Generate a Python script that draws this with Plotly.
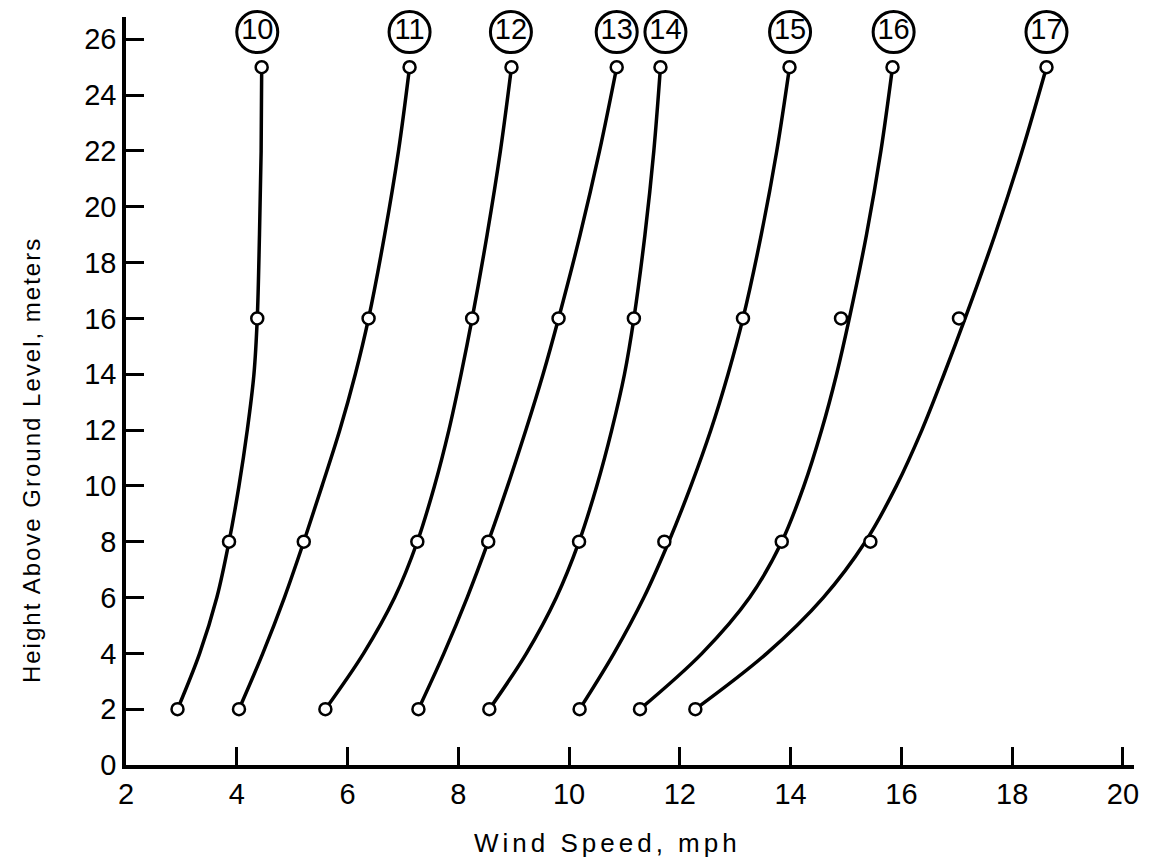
import plotly.graph_objects as go

# Heights of the measurement points (m)
heights = [2, 8, 16, 25]

# Profile labels
profile_labels = ["10", "11", "12", "13", "14", "15", "16", "17"]

# Measured wind speeds (mph) at the heights above, one list per profile
points_10 = [2.93, 3.86, 4.37, 4.45]
points_11 = [4.04, 5.21, 6.38, 7.12]
points_12 = [5.60, 7.26, 8.25, 8.96]
points_13 = [7.28, 8.54, 9.81, 10.86]
points_14 = [8.56, 10.18, 11.17, 11.65]
points_15 = [10.19, 11.72, 13.14, 13.98]
points_16 = [11.28, 13.84, 14.91, 15.84]
points_17 = [12.28, 15.44, 17.04, 18.62]

# Fitted (smoothed) curves: wind speed at these heights
curve_heights = [2, 4, 6, 8, 10, 12, 14, 16, 19, 22, 25]
curve_10 = [2.93, 3.33, 3.64, 3.86, 4.04, 4.19, 4.31, 4.37, 4.41, 4.44, 4.45]
curve_11 = [4.04, 4.47, 4.86, 5.21, 5.54, 5.86, 6.14, 6.38, 6.67, 6.92, 7.12]
curve_12 = [5.60, 6.29, 6.85, 7.26, 7.57, 7.83, 8.05, 8.25, 8.52, 8.76, 8.96]
curve_13 = [7.28, 7.74, 8.16, 8.54, 8.89, 9.22, 9.53, 9.81, 10.20, 10.55, 10.86]
curve_14 = [8.56, 9.23, 9.77, 10.18, 10.50, 10.77, 11.00, 11.17, 11.37, 11.53, 11.65]
curve_15 = [10.19, 10.81, 11.35, 11.80, 12.20, 12.56, 12.87, 13.14, 13.47, 13.75, 13.98]
curve_16 = [11.28, 12.40, 13.26, 13.84, 14.24, 14.56, 14.83, 15.06, 15.37, 15.63, 15.84]
curve_17 = [12.28, 13.57, 14.59, 15.35, 15.91, 16.37, 16.77, 17.15, 17.69, 18.18, 18.62]

# Circled label positions
label_x = [4.37, 7.12, 8.95, 10.86, 11.74, 13.99, 15.86, 18.62]
label_y = [26.26] * 8

# Axis ticks
x_ticks = [2, 4, 6, 8, 10, 12, 14, 16, 18, 20]
y_ticks = [0, 2, 4, 6, 8, 10, 12, 14, 16, 18, 20, 22, 24, 26]

points = [points_10, points_11, points_12, points_13, points_14, points_15, points_16, points_17]
curves = [curve_10, curve_11, curve_12, curve_13, curve_14, curve_15, curve_16, curve_17]

fig = go.Figure()

for lab, cx in zip(profile_labels, curves):
    fig.add_trace(go.Scatter(
        x=cx, y=curve_heights, mode="lines",
        line=dict(color="black", width=3.5, shape="spline", smoothing=1.0),
        name="curve " + lab, showlegend=False, hoverinfo="skip",
    ))

for lab, px in zip(profile_labels, points):
    fig.add_trace(go.Scatter(
        x=px, y=heights, mode="markers",
        marker=dict(symbol="circle", size=12, color="white",
                    line=dict(color="black", width=2.5)),
        name="profile " + lab, showlegend=False,
    ))

fig.add_trace(go.Scatter(
    x=label_x, y=label_y, mode="markers+text",
    text=profile_labels, textposition="middle center",
    textfont=dict(family="Liberation Sans", size=29, color="black"),
    marker=dict(symbol="circle-open", size=41, color="black",
                line=dict(color="black", width=3)),
    cliponaxis=False, showlegend=False, hoverinfo="skip",
))

tickfont = dict(family="Liberation Sans", size=29, color="black")

fig.update_layout(
    width=1151, height=863,
    margin=dict(l=126, r=15, t=17, b=98),
    paper_bgcolor="white", plot_bgcolor="white",
    xaxis=dict(
        range=[2, 20.2], tickvals=x_ticks, ticktext=[str(v) for v in x_ticks],
        ticks="inside", ticklen=18, tickwidth=3, tickcolor="black",
        showline=True, linewidth=3.5, linecolor="black",
        showgrid=False, zeroline=False, tickfont=tickfont,
    ),
    yaxis=dict(
        range=[0, 26.8], tickvals=y_ticks, ticktext=[str(v) for v in y_ticks],
        ticks="inside", ticklen=18, tickwidth=3, tickcolor="black",
        showline=True, linewidth=3.5, linecolor="black",
        showgrid=False, zeroline=False, tickfont=tickfont,
    ),
    annotations=[
        dict(text='<span style="letter-spacing:4px">Wind Speed, mph</span>',
             xref="paper", yref="paper", x=0.478, y=-0.104,
             showarrow=False, font=dict(family="Liberation Sans", size=26, color="black"),
             xanchor="center", yanchor="middle"),
        dict(text='<span style="letter-spacing:2px">Height Above Ground Level, meters</span>',
             xref="paper", yref="paper", x=-0.093, y=0.408, textangle=-90,
             showarrow=False, font=dict(family="Liberation Sans", size=24, color="black"),
             xanchor="center", yanchor="middle"),
    ],
)

fig.write_html("out.html")
